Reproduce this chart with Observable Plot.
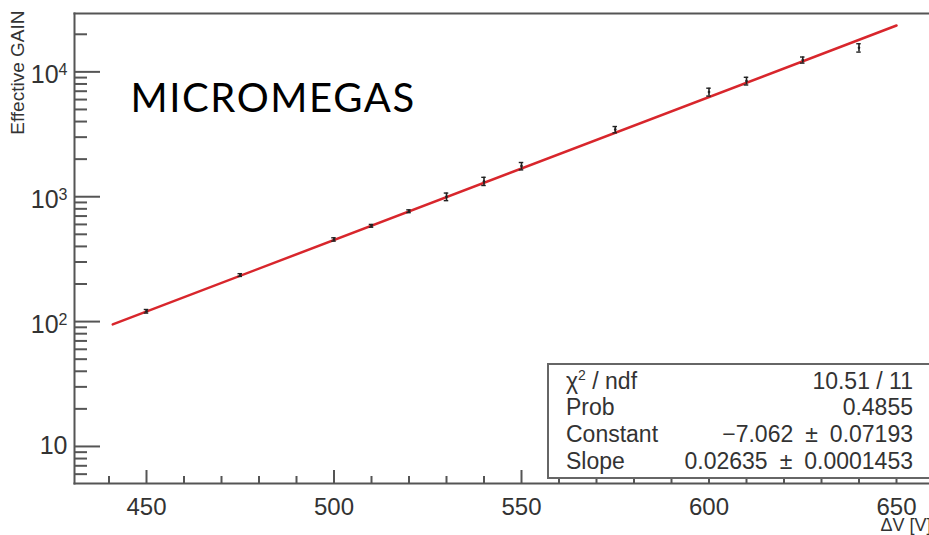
<!DOCTYPE html>
<html>
<head>
<meta charset="utf-8">
<script src="https://cdn.jsdelivr.net/npm/d3@7"></script>
<script src="https://cdn.jsdelivr.net/npm/@observablehq/plot@0.6"></script>
<style>
  html, body { margin: 0; padding: 0; background: #fff; overflow: hidden; }
  #wrap { position: relative; width: 929px; height: 535px; overflow: hidden; }
  #stats {
    position: absolute; left: 547px; top: 363px; width: 400px; height: 116px;
    border: 2px solid #666; background: #fff; box-sizing: border-box;
    font-family: "Liberation Sans", Arial, sans-serif; font-size: 23px; color: #333;
  }
  #stats .row { position: absolute; left: 17px; width: 347px; height: 26px; line-height: 26px;
    display: flex; justify-content: space-between; white-space: nowrap; }
  #stats sup { font-size: 14px; vertical-align: 9px; line-height: 0; }
  #stats .pm { margin: 0 12px; }
</style>
</head>
<body>
<div id="wrap"></div>
<script>
// ---- data ----
const voltage = [450, 475, 500, 510, 520, 530, 540, 550, 575, 600, 610, 625, 640];
const gain    = [121, 236, 455, 585, 765, 1000, 1330, 1760, 3450, 6900, 8450, 12450, 15600];
const gainErr = [4, 6, 14, 15, 20, 70, 100, 120, 200, 500, 600, 700, 1200];

// exponential fit drawn as a straight line on the log axis (end points)
const fitVoltage = [441, 650];
const fitGain    = [95, 23500];

// fit statistics box
const statLabels = ["χ<sup>2</sup> / ndf", "Prob", "Constant", "Slope"];
const statValues = ["10.51 / 11", "0.4855", "\u22127.062 \u00b1 0.07193", "0.02635 \u00b1 0.0001453"];

// axis ticks
const xMajor = [450, 500, 550, 600, 650];
const xMinor = [440, 460, 470, 480, 490, 510, 520, 530, 540, 560, 570, 580, 590, 610, 620, 630, 640];
const yMajor = [10, 100, 1000, 10000];
const yMinor = [6, 7, 8, 9, 20, 30, 40, 50, 60, 70, 80, 90, 200, 300, 400, 500, 600, 700, 800, 900,
                2000, 3000, 4000, 5000, 6000, 7000, 8000, 9000, 20000];

const yTitle = "Effective GAIN";
const xTitle = "\u0394V [V]";
const chartTitle = "MICROMEGAS";

const points = voltage.map((v, i) => ({v, g: gain[i], e: gainErr[i]}));
const fit = fitVoltage.map((v, i) => ({v, g: fitGain[i]}));

const axisColor = "#555";
const font = '"Liberation Sans", Arial, sans-serif';

const plot = Plot.plot({
  width: 929, height: 535,
  marginLeft: 74, marginTop: 13, marginBottom: 52, marginRight: 0,
  style: {fontFamily: font, fontSize: "24px", color: "#333", background: "white", overflow: "visible"},
  x: {domain: [430.8, 658.8]},
  y: {type: "log", domain: [5.05, 29340]},
  marks: [
    // frame lines
    Plot.frame({anchor: "left", stroke: axisColor, strokeWidth: 2}),
    Plot.frame({anchor: "bottom", stroke: axisColor, strokeWidth: 2}),
    Plot.frame({anchor: "top", stroke: axisColor, strokeWidth: 2}),
    // inward ticks
    Plot.axisY(yMajor, {tickSize: 26, dx: 26, tickFormat: () => "", label: null, stroke: axisColor, strokeWidth: 2}),
    Plot.axisY(yMinor, {tickSize: 13, dx: 13, tickFormat: () => "", label: null, stroke: axisColor, strokeWidth: 2}),
    Plot.axisX(xMajor, {tickSize: 13, dy: -13, tickFormat: () => "", label: null, stroke: axisColor, strokeWidth: 2}),
    Plot.axisX(xMinor, {tickSize: 7, dy: -7, tickFormat: () => "", label: null, stroke: axisColor, strokeWidth: 2}),
    // tick labels
    Plot.axisY(yMajor, {tickSize: 0, tickPadding: 7, label: null, fontSize: 25,
      tickFormat: d => d === 10 ? "10" : "10|" + Math.round(Math.log10(d))}),
    Plot.axisX(xMajor, {tickSize: 0, tickPadding: 14, label: null}),
    // fit line
    Plot.line(fit, {x: "v", y: "g", stroke: "#d8262c", strokeWidth: 2.5}),
    // error bars
    Plot.ruleX(points, {x: "v", y1: d => d.g - d.e, y2: d => d.g + d.e, stroke: "#222", strokeWidth: 1.6}),
    Plot.ruleY(points, {y: d => d.g + d.e, x1: d => d.v - 0.6, x2: d => d.v + 0.6, stroke: "#222", strokeWidth: 1.4}),
    Plot.ruleY(points, {y: d => d.g - d.e, x1: d => d.v - 0.6, x2: d => d.v + 0.6, stroke: "#222", strokeWidth: 1.4}),
    Plot.dot(points, {x: "v", y: "g", r: 1.3, fill: "#222"}),
    // titles
    Plot.text([yTitle], {frameAnchor: "top-left", text: d => d, rotate: -90, textAnchor: "end",
      dx: -64, dy: -3, fontSize: 19, fill: "#333"}),
    Plot.text([xTitle], {frameAnchor: "bottom-right", text: d => d, textAnchor: "start", lineAnchor: "bottom",
      dx: -49, dy: 47, fontSize: 18, fill: "#333"}),
    Plot.text([chartTitle], {frameAnchor: "top-left", text: d => d, textAnchor: "start", lineAnchor: "top",
      dx: 56, dy: 70, fontSize: 40, fontFamily: "Lato", fill: "#000"})
  ]
});

// superscript exponents on the y tick labels
d3.select(plot).selectAll('[aria-label="y-axis tick label"] text').each(function() {
  const t = d3.select(this);
  const s = t.text();
  if (s.includes("|")) {
    const [base, exp] = s.split("|");
    t.text(null);
    t.attr("transform", (t.attr("transform") || "") + " translate(0,3)");
    t.append("tspan").text(base);
    t.append("tspan").attr("dy", "-0.5em").attr("font-size", "16px").text(exp);
  }
});
d3.select(plot).selectAll('[aria-label="text"] text').filter(function() { return this.textContent === chartTitle; })
  .attr("letter-spacing", "1.6px");

const wrap = document.getElementById("wrap");
wrap.appendChild(plot);

const stats = document.createElement("div");
stats.id = "stats";
const rowTops = [3, 29, 56, 83];
statLabels.forEach((lab, i) => {
  const row = document.createElement("div");
  row.className = "row";
  row.style.top = rowTops[i] + "px";
  const val = statValues[i].replace(" \u00b1 ", '<span class="pm">\u00b1</span>');
  row.innerHTML = `<span>${lab}</span><span>${val}</span>`;
  stats.appendChild(row);
});
wrap.appendChild(stats);
</script>
</body>
</html>
